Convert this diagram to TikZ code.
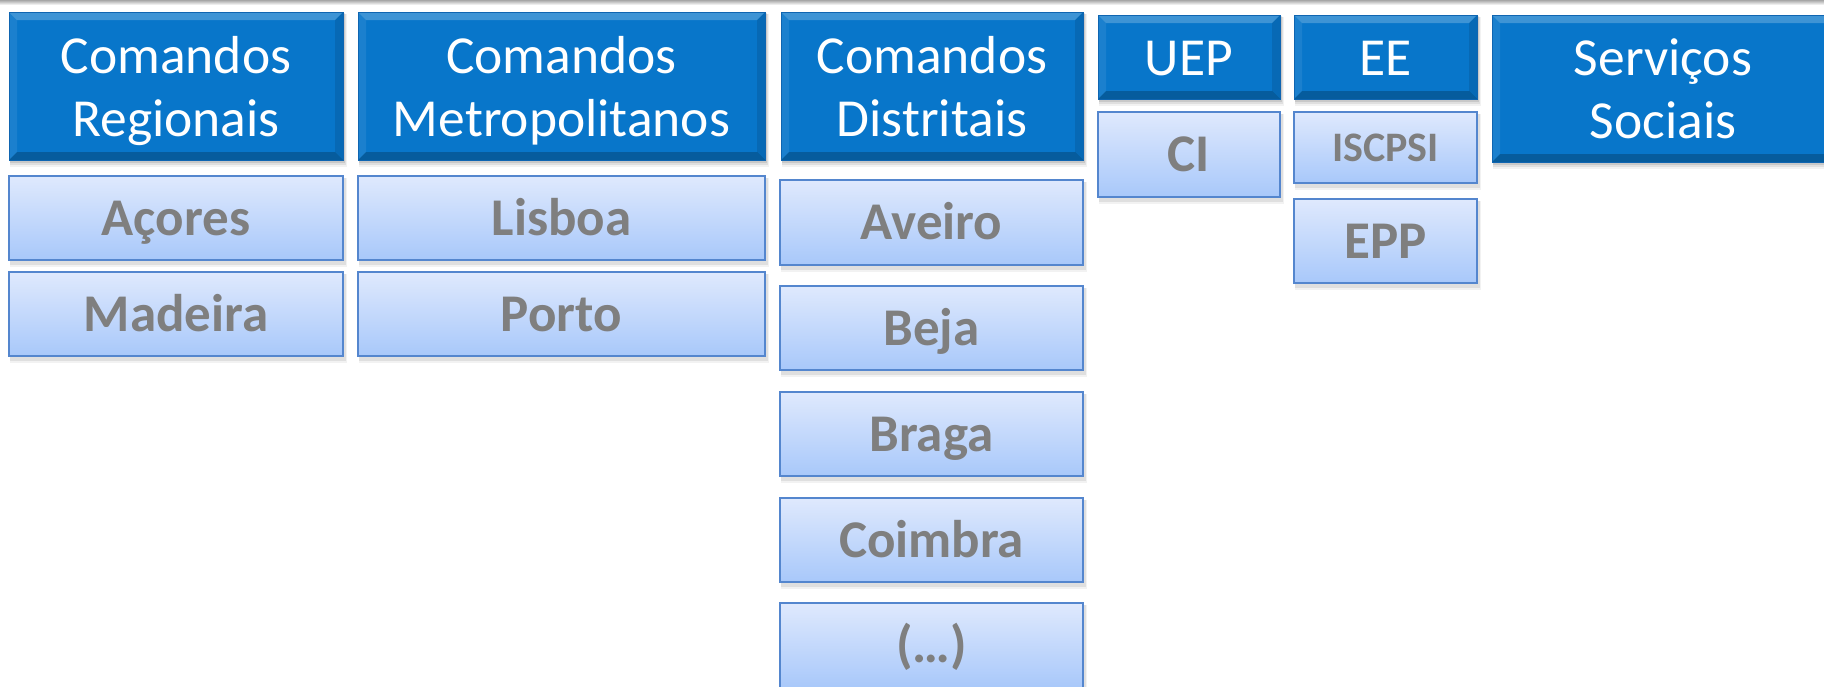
\documentclass[tikz,border=0pt]{standalone}
\usepackage{fontspec}
\setmainfont{Carlito}
\definecolor{hdrblue}{RGB}{8,118,202}
\definecolor{hdredge}{RGB}{20,90,160}
\definecolor{subtop}{RGB}{223,233,253}
\definecolor{subbot}{RGB}{168,200,250}
\definecolor{subline}{RGB}{84,134,206}
\definecolor{subgray}{RGB}{127,127,127}
\tikzset{
  hdrtext/.style={text=white, font=\fontsize{53.5}{63}\selectfont, align=center, inner sep=0pt, yshift=-6pt},
  subtext/.style={text=subgray, font=\fontsize{53}{63}\selectfont\bfseries, inner sep=0pt, text height=34pt, text depth=0pt},
  smalltext/.style={subtext, font=\fontsize{42}{50}\selectfont\bfseries, text height=27pt},
  subfill/.style={top color=subtop, bottom color=subbot},
  subedge/.style={draw=subline, line width=1.6pt},
  hdrfill/.style={fill=hdrblue},
  shadowlayer/.style={fill=black, opacity=#1},
}
% name, x1, y1, x2, y2, text
\newcommand\HdrBox[6]{%
  \fill[shadowlayer=0.05] (#2+1,#3+2) rectangle (#4+4,#5+7);
  \fill[shadowlayer=0.08] (#2+1,#3+2) rectangle (#4+2.5,#5+4.5);
  \fill[shadowlayer=0.10] (#2+1,#3+1) rectangle (#4+1.5,#5+2.5);
  \fill[hdrfill] (#2,#3) rectangle (#4,#5);
  \fill[white,opacity=0.22] (#2,#3) -- (#4,#3) -- (#4-8,#3+8) -- (#2+8,#3+8) -- cycle;
  \fill[white,opacity=0.08] (#2,#3) -- (#2+8,#3+8) -- (#2+8,#5-8) -- (#2,#5) -- cycle;
  \fill[black,opacity=0.22] (#2,#5) -- (#2+8,#5-8) -- (#4-8,#5-8) -- (#4,#5) -- cycle;
  \fill[black,opacity=0.10] (#4,#3) -- (#4-8,#3+8) -- (#4-8,#5-8) -- (#4,#5) -- cycle;
  \draw[hdredge!60!hdrblue, line width=0.8pt] (#2,#3) rectangle (#4,#5);
  \node[hdrtext] (#1) at ({(#2+#4)/2},{(#3+#5)/2}) {#6};
}
% name, x1, y1, x2, y2, text, style
\newcommand\SubBox[7]{%
  \fill[shadowlayer=0.05] (#2+1,#3+2) rectangle (#4+4,#5+7);
  \fill[shadowlayer=0.08] (#2+1,#3+2) rectangle (#4+2.5,#5+4.5);
  \shade[subfill] (#2,#3) rectangle (#4,#5);
  \draw[subedge] (#2,#3) rectangle (#4,#5);
  \node[#7] (#1) at ({(#2+#4)/2},{(#3+#5)/2}) {#6};
}
\begin{document}
\begin{tikzpicture}[x=1pt,y=-1pt]
\useasboundingbox (0,0) rectangle (1824,686);
\begin{scope}
\clip (0,0) rectangle (1824,686);
\fill[white] (0,0) rectangle (1824,686);
\shade[top color=black!35, bottom color=white] (0,0) rectangle (1824,5);
\HdrBox{cr}{9}{12}{343}{160}{\strut Comandos\\\strut Regionais}
\HdrBox{cm}{358}{12}{765}{160}{\strut Comandos\\\strut Metropolitanos}
\HdrBox{cd}{781}{12}{1083}{160}{\strut Comandos\\\strut Distritais}
\HdrBox{uep}{1098}{15}{1280}{99}{\strut UEP}
\HdrBox{ee}{1294}{15}{1477}{99}{\strut EE}
\HdrBox{ss}{1492}{15}{1834}{162}{\strut Serviços\\\strut Sociais}
\SubBox{acores}{9}{176}{343}{260}{Açores}{subtext}
\SubBox{madeira}{9}{272}{343}{356}{Madeira}{subtext}
\SubBox{lisboa}{358}{176}{765}{260}{Lisboa}{subtext}
\SubBox{porto}{358}{272}{765}{356}{Porto}{subtext}
\SubBox{aveiro}{780}{180}{1083}{265}{Aveiro}{subtext}
\SubBox{beja}{780}{286}{1083}{370}{Beja}{subtext}
\SubBox{braga}{780}{392}{1083}{476}{Braga}{subtext}
\SubBox{coimbra}{780}{498}{1083}{582}{Coimbra}{subtext}
\SubBox{etc}{780}{603}{1083}{688}{(…)}{subtext}
\SubBox{ci}{1098}{112}{1280}{197}{CI}{subtext}
\SubBox{iscpsi}{1294}{112}{1477}{183}{ISCPSI}{smalltext}
\SubBox{epp}{1294}{199}{1477}{283}{EPP}{subtext}
\end{scope}
\end{tikzpicture}
\end{document}
